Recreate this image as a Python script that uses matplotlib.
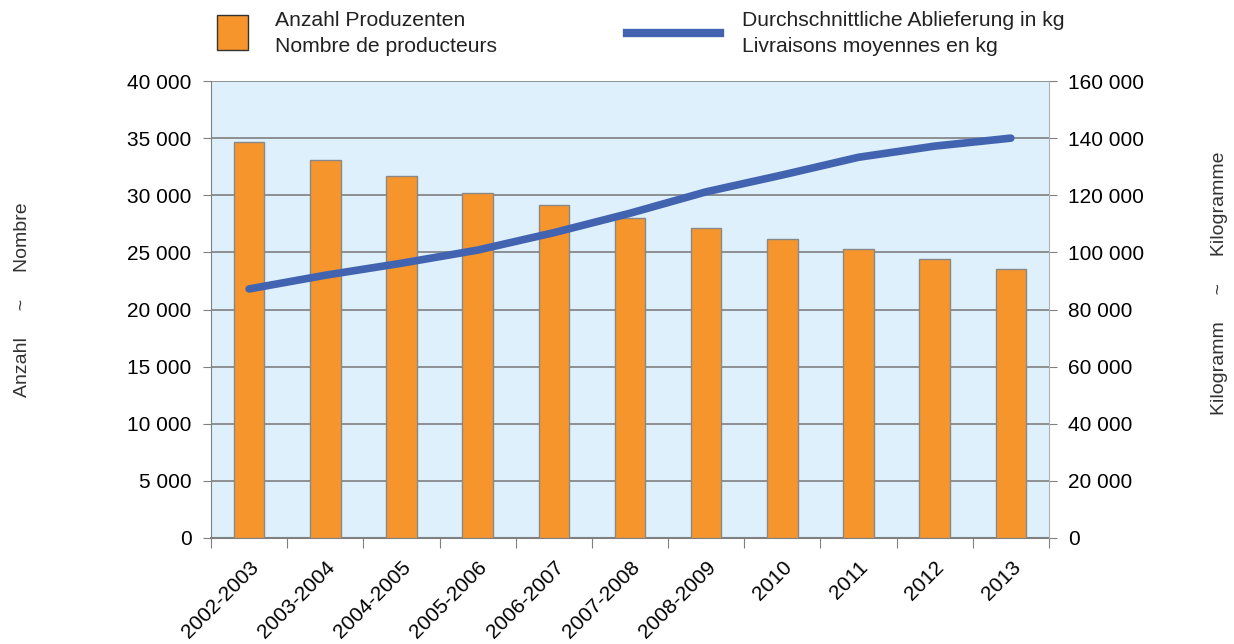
import matplotlib
matplotlib.use('Agg')
import matplotlib.pyplot as plt
from matplotlib.patches import Rectangle
from matplotlib.lines import Line2D

plt.rcParams['font.family'] = ['Liberation Sans', 'DejaVu Sans']

years = ['2002-2003', '2003-2004', '2004-2005', '2005-2006', '2006-2007', '2007-2008',
         '2008-2009', '2010', '2011', '2012', '2013']
producers = [34650, 33100, 31700, 30200, 29150, 28030, 27130, 26150, 25270, 24420, 23570]
avg_kg = [87200, 92000, 96200, 100800, 106900, 113700, 121200, 127100, 133300, 137200, 140000]

fig = plt.figure(figsize=(12.34, 6.44), dpi=100)
ax = fig.add_axes([0.171, 0.1646, 0.679, 0.7096])
ax.set_facecolor('#ddf0fb')

x = list(range(len(years)))
ax.bar(x, producers, width=0.4, color='#f7952d', edgecolor='#888888', linewidth=1, zorder=3)
ax.set_xlim(-0.5, len(years) - 0.5)
ax.set_ylim(0, 40000)
ax.set_yticks(range(0, 40001, 5000))
ax.set_yticklabels(['0' if v == 0 else f'{v // 1000} 000' for v in range(0, 40001, 5000)], fontsize=15)
ax.yaxis.grid(True, color='#808080', linewidth=1.2, zorder=1)
ax.set_axisbelow(True)

# category ticks sit between bars
ax.set_xticks([i - 0.5 for i in range(len(years) + 1)], minor=False)
ax.set_xticklabels([])
ax.set_xticks(x, minor=True)
ax.set_xticklabels(years, minor=True, rotation=45, ha='right', rotation_mode='anchor', fontsize=15)
ax.tick_params(axis='x', which='major', length=7, color='#808080', direction='out')
ax.tick_params(axis='x', which='minor', length=0, pad=14)
ax.tick_params(axis='y', length=6, color='#808080', pad=8)

for s in ['top', 'right']:
    ax.spines[s].set_visible(False)
ax.spines['left'].set_color('#808080')
ax.spines['bottom'].set_color('#808080')
ax.spines['bottom'].set_linewidth(1.5)

ax2 = ax.twinx()
ax2.plot(x, avg_kg, color='#4264b0', linewidth=5.5, solid_capstyle='round', zorder=4)
ax2.set_ylim(0, 160000)
ax2.set_yticks(range(0, 160001, 20000))
ax2.set_yticklabels(['0' if v == 0 else f'{v // 1000} 000' for v in range(0, 160001, 20000)], fontsize=15)
ax2.tick_params(axis='y', length=6, color='#808080', pad=8)
for s in ['top', 'left', 'bottom']:
    ax2.spines[s].set_visible(False)
ax2.spines['right'].set_color('#b0b0b0')

fig.text(0.018, 1 - 300 / 644, 'Anzahl     ~     Nombre', rotation=90, va='center', ha='center', fontsize=14, color='#333333')
fig.text(0.988, 1 - 283 / 644, 'Kilogramm     ~     Kilogramme', rotation=90, va='center', ha='center', fontsize=14, color='#333333')

# legend
fig.patches.append(Rectangle((217 / 1234, 1 - 50 / 644), 31 / 1234, 35 / 644, transform=fig.transFigure,
                             facecolor='#f7952d', edgecolor='#333333', linewidth=1))
fig.lines.append(Line2D([627 / 1234, 720 / 1234], [1 - 33 / 644, 1 - 33 / 644], transform=fig.transFigure,
                        color='#4264b0', linewidth=6))
fig.text(275 / 1234, 1 - 21 / 644, 'Anzahl Produzenten', va='center', fontsize=15.2, color='#222222')
fig.text(275 / 1234, 1 - 47 / 644, 'Nombre de producteurs', va='center', fontsize=15.2, color='#222222')
fig.text(742 / 1234, 1 - 21 / 644, 'Durchschnittliche Ablieferung in kg', va='center', fontsize=15.2, color='#222222')
fig.text(742 / 1234, 1 - 47 / 644, 'Livraisons moyennes en kg', va='center', fontsize=15.2, color='#222222')

fig.savefig('out.png', dpi=100)
